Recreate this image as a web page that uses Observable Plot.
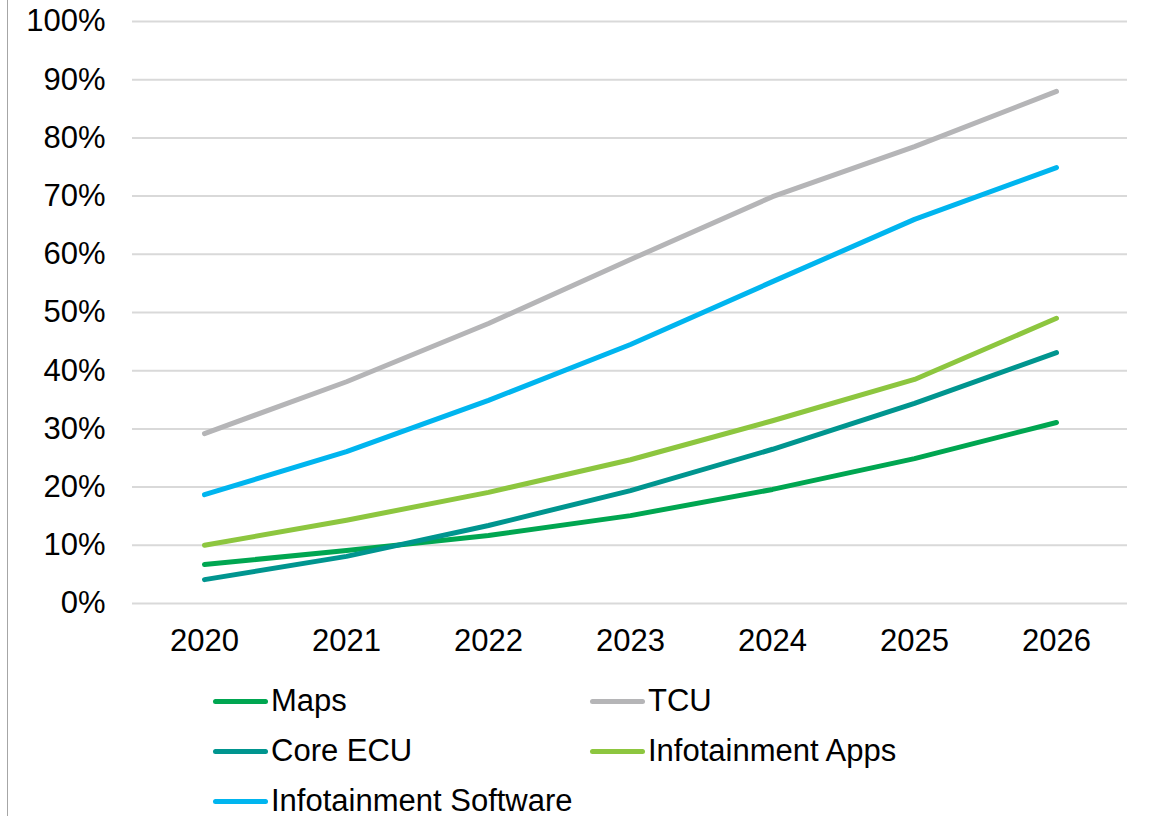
<!DOCTYPE html>
<html>
<head>
<meta charset="utf-8">
<script src="https://cdn.jsdelivr.net/npm/d3@7"></script>
<script src="https://cdn.jsdelivr.net/npm/@observablehq/plot@0.6"></script>
<style>
  html, body { margin: 0; padding: 0; background: #fff; }
  body { width: 1151px; height: 816px; overflow: hidden; position: relative; font-family: "Liberation Sans", Arial, sans-serif; }
  #frame { position: absolute; left: 7px; top: 0; width: 0; height: 816px; border-left: 1.5px solid #a6a6a6; }
  #chart { position: absolute; left: 0; top: 0; }
  #legend { position: absolute; left: 213px; top: 676px; display: grid; grid-template-columns: 377px 400px; row-gap: 0; }
  .item { display: flex; align-items: center; height: 50px; font-size: 31px; color: #000; }
  .sw { width: 55px; height: 5px; border-radius: 3px; margin-right: 3px; }
</style>
</head>
<body>
<div id="frame"></div>
<div id="chart"></div>
<div id="legend"></div>
<script>
const years = ["2020", "2021", "2022", "2023", "2024", "2025", "2026"];
const seriesNames = ["Maps", "TCU", "Core ECU", "Infotainment Apps", "Infotainment Software"];
const colors = ["#00A651", "#B5B5B7", "#00958F", "#8DC63F", "#00B5EF"];
const maps = [0.067, 0.091, 0.117, 0.151, 0.196, 0.249, 0.311];
const tcu = [0.292, 0.381, 0.481, 0.591, 0.699, 0.785, 0.880];
const coreEcu = [0.041, 0.081, 0.134, 0.194, 0.265, 0.344, 0.431];
const infoApps = [0.100, 0.143, 0.191, 0.247, 0.314, 0.385, 0.490];
const infoSoftware = [0.187, 0.261, 0.349, 0.445, 0.553, 0.660, 0.749];
const yTicks = [0, 0.1, 0.2, 0.3, 0.4, 0.5, 0.6, 0.7, 0.8, 0.9, 1.0];

const seriesValues = [maps, tcu, coreEcu, infoApps, infoSoftware];
const data = [];
seriesNames.forEach((name, i) => {
  years.forEach((yr, j) => data.push({series: name, year: yr, value: seriesValues[i][j]}));
});

const chart = Plot.plot({
  width: 1151,
  height: 670,
  marginLeft: 132,
  marginRight: 24,
  marginTop: 21,
  marginBottom: 67,
  style: { fontFamily: "Liberation Sans, Arial, sans-serif", fontSize: "31px", color: "#000", background: "transparent" },
  x: { type: "point", domain: years, padding: 0.5, label: null },
  y: { domain: [0, 1], label: null },
  color: { domain: seriesNames, range: colors },
  marks: [
    Plot.ruleY(yTicks, { stroke: "#D9D9D9", strokeWidth: 2 }),
    Plot.axisY({ ticks: yTicks, tickFormat: d3.format(".0%"), tickSize: 0, tickPadding: 27, label: null, fontSize: 31 }),
    Plot.axisX({ tickSize: 0, tickPadding: 25, label: null, fontSize: 31 }),
    Plot.line(data, { x: "year", y: "value", z: "series", stroke: "series", strokeWidth: 5, strokeLinecap: "round", strokeLinejoin: "round" })
  ]
});
document.getElementById("chart").appendChild(chart);

const legend = document.getElementById("legend");
seriesNames.forEach((name, i) => {
  const item = document.createElement("div");
  item.className = "item";
  const sw = document.createElement("div");
  sw.className = "sw";
  sw.style.background = colors[i];
  const label = document.createElement("span");
  label.textContent = name;
  item.appendChild(sw);
  item.appendChild(label);
  legend.appendChild(item);
});
</script>
</body>
</html>
